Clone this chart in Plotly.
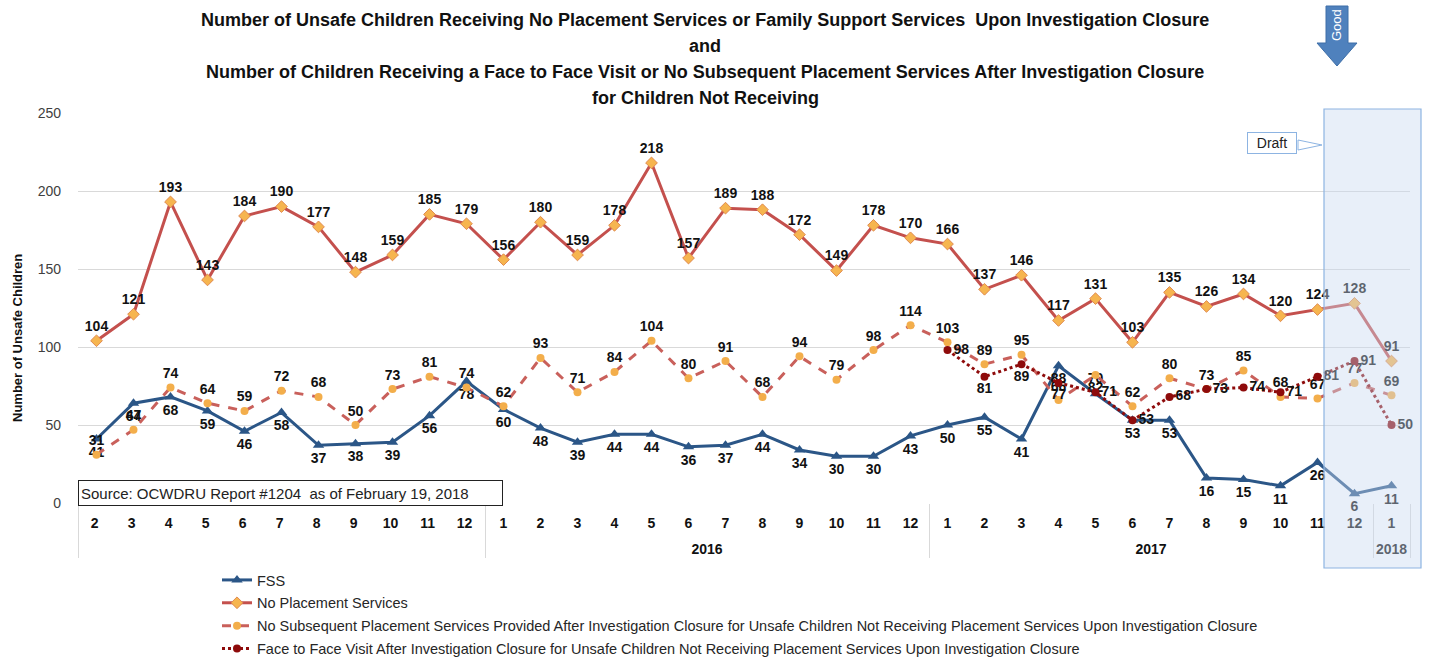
import plotly.graph_objects as go

# ---------------- data ----------------
years = [" "] * 11 + ["2016"] * 12 + ["2017"] * 12 + ["2018"]
# 2015 month labels carry a trailing space so the multicategory axis keeps
# the 1..12 order inside the later years
months = ([f"{m} " for m in range(2, 13)] + [str(m) for m in range(1, 13)] * 2 + ["1"])

fss = [41, 64, 68, 59, 46, 58, 37, 38, 39, 56, 78,
       60, 48, 39, 44, 44, 36, 37, 44, 34, 30, 30, 43,
       50, 55, 41, 88, 70, 53, 53, 16, 15, 11, 26, 6,
       11]
no_placement = [104, 121, 193, 143, 184, 190, 177, 148, 159, 185, 179,
                156, 180, 159, 178, 218, 157, 189, 188, 172, 149, 178, 170,
                166, 137, 146, 117, 131, 103, 135, 126, 134, 120, 124, 128,
                91]
no_subsequent = [31, 47, 74, 64, 59, 72, 68, 50, 73, 81, 74,
                 62, 93, 71, 84, 104, 80, 91, 68, 94, 79, 98, 114,
                 103, 89, 95, 66, 82, 62, 80, 73, 85, 68, 67, 77,
                 69]
face_to_face = [None] * 23 + [98, 81, 89, 77, 71, 53, 68, 73, 74, 71, 81, 91,
                              50]

names = ["FSS",
         "No Placement Services",
         "No Subsequent Placement Services Provided After Investigation Closure for Unsafe Children Not Receiving Placement Services Upon Investigation Closure",
         "Face to Face Visit After Investigation Closure for Unsafe Children Not Receiving Placement Services Upon Investigation Closure"]

title_lines = ["Number of Unsafe Children Receiving No Placement Services or Family Support Services  Upon Investigation Closure",
               "and",
               "Number of Children Receiving a Face to Face Visit or No Subsequent Placement Services After Investigation Closure",
               "for Children Not Receiving"]

# ---------------- label positions (style) ----------------
fss_pos = ["bottom center"] * 36
fss_pos[27] = "top center"
np_pos = ["top center"] * 36
ns_pos = ["top center"] * 36
ns_pos[27] = "bottom center"
ff_pos = ["middle right"] * 36
for i in (24, 25, 26):
    ff_pos[i] = "bottom center"

W, H = 1432, 657
L, R, T, B = 78, 22, 113, 154
PW, PH = W - L - R, H - T - B


def px(x):
    return (x - L) / PW


def py(y):
    return (H - B - y) / PH


# year level gets a leading line break so it sits lower under the months
x = [["<br>" + y for y in years], months]
lab_font = dict(family="Liberation Sans", size=14, color="#111111", weight="bold")


def txt(vals):
    return ["" if v is None else str(v) for v in vals]


fig = go.Figure()
fig.add_trace(go.Scatter(
    x=x, y=fss, name=names[0], mode="lines+markers+text",
    line=dict(color="#2B5687", width=3),
    marker=dict(symbol="triangle-up", size=10, color="#2B5687"),
    text=txt(fss), textposition=fss_pos, textfont=lab_font,
    legendgroup="a", cliponaxis=False))
fig.add_trace(go.Scatter(
    x=x, y=no_placement, name=names[1], mode="lines+markers+text",
    line=dict(color="#C4504D", width=3),
    marker=dict(symbol="diamond", size=9, color="#F6B54F",
                line=dict(color="#E08A50", width=1)),
    text=txt(no_placement), textposition=np_pos, textfont=lab_font,
    legendgroup="b", cliponaxis=False))
fig.add_trace(go.Scatter(
    x=x, y=no_subsequent, name=names[2], mode="lines+markers+text",
    line=dict(color="#C9605B", width=3, dash="dash"),
    marker=dict(symbol="circle", size=8, color="#F3AE4B"),
    text=txt(no_subsequent), textposition=ns_pos, textfont=lab_font,
    legendgroup="c", cliponaxis=False))
fig.add_trace(go.Scatter(
    x=x, y=face_to_face, name=names[3], mode="lines+markers+text",
    line=dict(color="#8E0B0B", width=3, dash="dot"),
    marker=dict(symbol="circle", size=8, color="#8E0B0B"),
    text=txt(face_to_face), textposition=ff_pos, textfont=lab_font,
    legendgroup="d", cliponaxis=False, connectgaps=False))

shapes = [
    # draft shaded region
    dict(type="rect", xref="paper", yref="paper", x0=px(1324), x1=px(1421),
         y0=py(568), y1=py(109), layer="above",
         fillcolor="rgba(200,216,240,0.42)", line=dict(color="#8DB4E2", width=1.2)),
    # callout pointer
    dict(type="path", xref="paper", yref="paper",
         path=f"M {px(1298)} {py(140)} L {px(1322)} {py(145)} L {px(1298)} {py(150)} Z",
         fillcolor="white", line=dict(color="#8DB4E2", width=1)),
    # good arrow
    dict(type="path", xref="paper", yref="paper",
         path=(f"M {px(1326)} {py(6)} L {px(1348)} {py(6)} L {px(1348)} {py(43)} "
               f"L {px(1357)} {py(43)} L {px(1337)} {py(66)} L {px(1317)} {py(43)} "
               f"L {px(1326)} {py(43)} Z"),
         fillcolor="#4F81BD", line=dict(color="#3E6FA8", width=1)),
]

annotations = []
for line_txt, yy in zip(title_lines, [20, 46, 72, 98]):
    annotations.append(dict(text=line_txt, xref="paper", yref="paper",
                            x=px(705), y=py(yy), xanchor="center", yanchor="middle",
                            showarrow=False,
                            font=dict(family="Liberation Sans", size=18,
                                      color="#111111", weight="bold")))
annotations += [
    dict(text="Number of Unsafe Children", xref="paper", yref="paper",
         x=px(17), y=py(338), textangle=-90, showarrow=False,
         xanchor="center", yanchor="middle",
         font=dict(family="Liberation Sans", size=13, color="#111111", weight="bold")),
    dict(text="Source: OCWDRU Report #1204  as of February 19, 2018", xref="paper", yref="paper",
         x=px(78), y=py(493), xanchor="left", yanchor="middle", showarrow=False,
         width=419, height=20, align="left", bgcolor="white",
         bordercolor="#222222", borderwidth=1, borderpad=2,
         font=dict(family="Liberation Sans", size=15, color="#222222")),
    dict(text="Draft", xref="paper", yref="paper", x=px(1272), y=py(143),
         xanchor="center", yanchor="middle", showarrow=False,
         width=44, height=16, bgcolor="white", bordercolor="#8DB4E2",
         borderwidth=1, borderpad=2,
         font=dict(family="Liberation Sans", size=14, color="#222222")),
    dict(text="Good", xref="paper", yref="paper", x=px(1337), y=py(25),
         textangle=-90, showarrow=False, xanchor="center", yanchor="middle",
         font=dict(family="Liberation Sans", size=13, color="white")),
]

fig.update_layout(
    width=W, height=H, autosize=False,
    margin=dict(l=L, r=R, t=T, b=B, pad=0, autoexpand=False),
    plot_bgcolor="white", paper_bgcolor="white",
    showlegend=True,
    legend=dict(x=px(217), y=py(564), xanchor="left", yanchor="top",
                font=dict(family="Liberation Sans", size=14.5, color="#262626"),
                tracegroupgap=1, bgcolor="rgba(0,0,0,0)"),
    shapes=shapes, annotations=annotations,
    font=dict(family="Liberation Sans"),
)
fig.update_yaxes(range=[0, 250], dtick=50, showgrid=True, gridcolor="#D9D9D9",
                 zeroline=False, ticks="", ticklabelstandoff=16,
                 tickfont=dict(family="Liberation Sans", size=14, color="#404040"))
fig.update_xaxes(type="multicategory", range=[-0.5, 35.5], autorange=False,
                 showgrid=False, showline=False,
                 showdividers=True, dividercolor="#D9D9D9", dividerwidth=1,
                 ticklabelstandoff=10,
                 tickfont=dict(family="Liberation Sans", size=14, color="#111111",
                               weight="bold"))

fig.write_html("out.html",
               config={"displayModeBar": False},
               post_script="document.body.style.margin='0';document.body.style.overflow='hidden';")
